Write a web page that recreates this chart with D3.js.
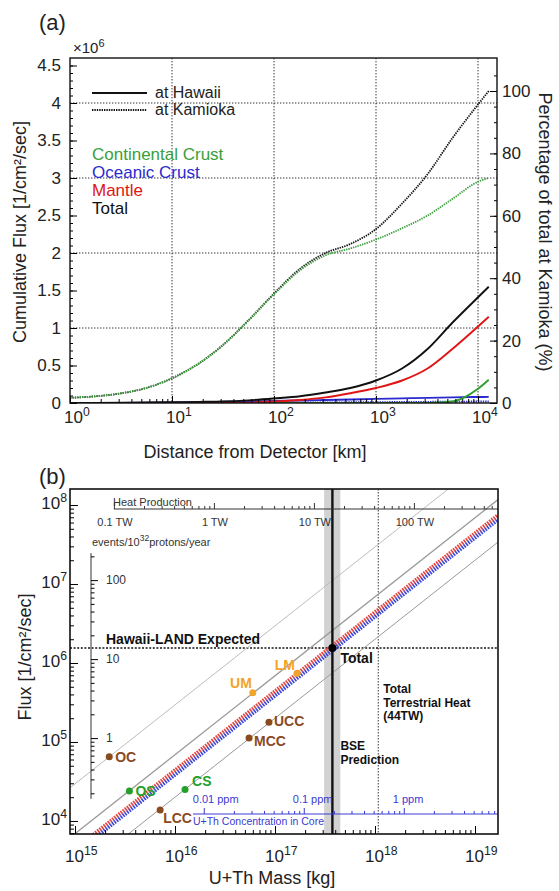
<!DOCTYPE html>
<html>
<head>
<meta charset="utf-8">
<script src="https://cdn.jsdelivr.net/npm/d3@7"></script>
<style>
  body { margin: 0; background: #fff; }
  svg { font-family: "Liberation Sans", Arial, Helvetica, sans-serif; }
</style>
</head>
<body>
<svg id="chart" width="559" height="891"></svg>
<script>
// ---------- panel (a): cumulative flux (x10^6 /cm2/sec) vs distance ----------
var distanceKm   = [1, 1.8, 3.2, 5.6, 10, 18, 32, 56, 100, 180, 320, 560, 1000, 1800, 3200, 5600, 10000, 12742];
var kamiokaCC    = [0.07, 0.09, 0.13, 0.2, 0.33, 0.52, 0.78, 1.1, 1.45, 1.77, 1.97, 2.06, 2.18, 2.33, 2.5, 2.72, 2.95, 3.0];
var kamiokaOC    = [0, 0, 0, 0, 0.001, 0.002, 0.003, 0.004, 0.005, 0.006, 0.008, 0.01, 0.012, 0.014, 0.016, 0.018, 0.02, 0.02];
var kamiokaTotal = [0.07, 0.09, 0.13, 0.2, 0.33, 0.52, 0.78, 1.1, 1.46, 1.79, 2.0, 2.12, 2.32, 2.66, 3.05, 3.53, 3.98, 4.16];
var hawaiiCC     = [0, 0, 0, 0, 0, 0, 0, 0, 0, 0, 0, 0, 0, 0, 0, 0.02, 0.19, 0.31];
var hawaiiOC     = [0, 0.001, 0.002, 0.004, 0.008, 0.012, 0.017, 0.022, 0.027, 0.033, 0.04, 0.047, 0.055, 0.062, 0.069, 0.075, 0.08, 0.082];
var hawaiiMantle = [0, 0, 0, 0, 0, 0, 0, 0.005, 0.02, 0.04, 0.075, 0.13, 0.2, 0.3, 0.46, 0.72, 1.02, 1.15];
var hawaiiTotal  = [0, 0.001, 0.003, 0.006, 0.01, 0.015, 0.02, 0.035, 0.06, 0.09, 0.14, 0.2, 0.3, 0.46, 0.72, 1.07, 1.41, 1.55];
var fluxTicks    = [0, 0.5, 1, 1.5, 2, 2.5, 3, 3.5, 4, 4.5];
var percentTicks = [0, 20, 40, 60, 80, 100];
var distDecades  = [1, 10, 100, 1000, 10000];

// ---------- panel (b): flux vs U+Th mass ----------
var reservoirNames = ["OC", "OS", "CS", "LCC", "MCC", "UCC", "UM", "LM"];
var reservoirMass  = [2.2e15, 3.5e15, 1.26e16, 7.1e15, 5.5e16, 8.7e16, 6.0e16, 1.66e17];
var reservoirFlux  = [6.5e4, 2.4e4, 2.5e4, 1.38e4, 1.12e5, 1.78e5, 4.2e5, 7.4e5];
var reservoirGroup = ["ocean", "sediment", "sediment", "ocean", "ocean", "ocean", "mantle", "mantle"];
var ratioLines     = [2.95e-11, 6.9e-12, 2.0e-12];   // flux per kg, gray guides
var bandRatios     = [4.4e-12, 3.85e-12];            // red / blue
var bseMass = 3.75e17, bseRange = [3.1e17, 4.5e17];
var totalFlux = 1.55e6, hawaiiExpected = 1.55e6;
var terrestrialHeatTW = 44, massPerTW = 2.45e16;
var coreMassKg = 1.94e24, fluxPerEvent = 1.12e5;
var eventsRange = [0.17, 220], coreRange = [0.0078, 10];
var massDecades = [1e15, 1e16, 1e17, 1e18, 1e19];
var fluxDecades = [1e4, 1e5, 1e6, 1e7, 1e8];
var heatTicks   = [0.1, 1, 10, 100];
var eventTicks  = [1, 10, 100];
var ppmTicks    = [0.01, 0.1, 1];

var svg = d3.select("#chart");

function minorsOf(decades, lo, hi) {
  var out = [];
  decades.forEach(function(d) {
    for (var k = 2; k <= 9; k++) {
      var v = d * k;
      if (v >= lo && v <= hi) out.push(v);
    }
  });
  return out;
}
function extendDecades(lo, hi) {
  var out = [];
  for (var e = Math.floor(Math.log10(lo)) - 1; e <= Math.ceil(Math.log10(hi)); e++) out.push(Math.pow(10, e));
  return out;
}

// "10" with exponent
function powLabel(g, x, y, exp, anchor, size) {
  var t = g.append("text").attr("x", x).attr("y", y)
    .attr("text-anchor", anchor).attr("font-size", size).attr("fill", "#222");
  t.append("tspan").text("10");
  t.append("tspan").attr("dy", -size * 0.42).attr("font-size", size * 0.72).text(exp);
}

function clean(g) {
  g.select(".domain").remove();
  g.attr("font-family", null);
}

// ================= panel (a) =================
var aL = 70, aR = 497, aT = 58, aB = 403;
var xA = d3.scaleLog().domain([1, 15350]).range([aL, aR]);
var yA = d3.scaleLinear().domain([0, 4.6]).range([aB, aT]);
var yP = d3.scaleLinear().domain([0, 4.6 / kamiokaTotal[kamiokaTotal.length - 1] * 100]).range([aB, aT]);

var pa = svg.append("g");
pa.append("defs").append("clipPath").attr("id", "clipA")
  .append("rect").attr("x", aL).attr("y", aT).attr("width", aR - aL).attr("height", aB - aT);

// grid
pa.append("g").selectAll("line").data(distDecades.slice(1)).enter().append("line")
  .attr("x1", function(d) { return xA(d); }).attr("x2", function(d) { return xA(d); })
  .attr("y1", aT).attr("y2", aB)
  .attr("stroke", "#333").attr("stroke-width", 1).attr("stroke-dasharray", "1.4,1.6");
pa.append("g").selectAll("line").data([1, 2, 3, 4]).enter().append("line")
  .attr("x1", aL).attr("x2", aR)
  .attr("y1", function(d) { return yA(d); }).attr("y2", function(d) { return yA(d); })
  .attr("stroke", "#333").attr("stroke-width", 1).attr("stroke-dasharray", "1.4,1.6");

// curves
var seriesA = [
  { v: kamiokaTotal, color: "#111", dotted: true },
  { v: kamiokaCC, color: "#3a9e3a", dotted: true },
  { v: kamiokaOC, color: "#2a2ad0", dotted: true },
  { v: hawaiiOC, color: "#2a2ad0", dotted: false },
  { v: hawaiiCC, color: "#2e9e2e", dotted: false },
  { v: hawaiiMantle, color: "#e01515", dotted: false },
  { v: hawaiiTotal, color: "#111", dotted: false }
];
var lineA = d3.line().curve(d3.curveMonotoneX);
pa.append("g").attr("clip-path", "url(#clipA)").selectAll("path").data(seriesA).enter().append("path")
  .attr("d", function(s) {
    return lineA(distanceKm.map(function(d, i) { return [xA(d), yA(s.v[i])]; }));
  })
  .attr("fill", "none")
  .attr("stroke", function(s) { return s.color; })
  .attr("stroke-width", function(s) { return s.dotted ? 1.8 : 1.9; })
  .attr("stroke-dasharray", function(s) { return s.dotted ? "1.4,1" : null; });

// axes
var axB = pa.append("g").attr("transform", "translate(0," + aB + ")")
  .call(d3.axisBottom(xA).tickValues(distDecades).tickSize(-7).tickFormat(""));
clean(axB);
var axBm = pa.append("g").attr("transform", "translate(0," + aB + ")")
  .call(d3.axisBottom(xA).tickValues(minorsOf(distDecades, 1, 15350)).tickSize(-4).tickFormat(""));
clean(axBm);
distDecades.forEach(function(d) {
  powLabel(pa, xA(d) - 6, 423, Math.round(Math.log10(d)), "start", 17);
});

var axL = pa.append("g").attr("transform", "translate(" + aL + ",0)")
  .call(d3.axisLeft(yA).tickValues(fluxTicks).tickSize(-7).tickPadding(9).tickFormat(function(d) { return d; }));
clean(axL);
axL.attr("font-size", 17).selectAll("text").attr("fill", "#222");
var axLm = pa.append("g").attr("transform", "translate(" + aL + ",0)")
  .call(d3.axisLeft(yA).tickValues(d3.range(0.1, 4.6, 0.1)).tickSize(-3).tickFormat(""));
clean(axLm);

var axR = pa.append("g").attr("transform", "translate(" + aR + ",0)")
  .call(d3.axisRight(yP).tickValues(percentTicks).tickSize(-7).tickPadding(5).tickFormat(function(d) { return d; }));
clean(axR);
axR.attr("font-size", 17).selectAll("text").attr("fill", "#222");
var axRm = pa.append("g").attr("transform", "translate(" + aR + ",0)")
  .call(d3.axisRight(yP).tickValues(d3.range(5, 110, 5)).tickSize(-3).tickFormat(""));
clean(axRm);

pa.append("rect").attr("x", aL).attr("y", aT).attr("width", aR - aL).attr("height", aB - aT)
  .attr("fill", "none").attr("stroke", "#111").attr("stroke-width", 1.4);

// x10^6
var mult = pa.append("text").attr("x", 73).attr("y", 53).attr("font-size", 15).attr("fill", "#222");
mult.append("tspan").text("\u00d710");
mult.append("tspan").attr("dy", -6).attr("font-size", 11).text("6");

// legend
var legA = [
  { label: "at Hawaii", dotted: false },
  { label: "at Kamioka", dotted: true }
];
legA.forEach(function(l, i) {
  var y = 93 + i * 17;
  pa.append("line").attr("x1", 92).attr("x2", 147).attr("y1", y).attr("y2", y)
    .attr("stroke", "#111").attr("stroke-width", l.dotted ? 1.8 : 2)
    .attr("stroke-dasharray", l.dotted ? "1.4,1" : null);
  pa.append("text").attr("x", 155).attr("y", y + 5).attr("font-size", 16).attr("fill", "#222").text(l.label);
});
var compA = [
  { label: "Continental Crust", color: "#3a9e3a" },
  { label: "Oceanic Crust", color: "#2a2ad0" },
  { label: "Mantle", color: "#e01515" },
  { label: "Total", color: "#111" }
];
compA.forEach(function(c, i) {
  pa.append("text").attr("x", 92).attr("y", 160 + i * 18).attr("font-size", 17)
    .attr("fill", c.color).text(c.label);
});

// titles
pa.append("text").attr("x", 39).attr("y", 30).attr("font-size", 22).attr("fill", "#222").text("(a)");
pa.append("text").attr("transform", "translate(26,232) rotate(-90)").attr("text-anchor", "middle")
  .attr("font-size", 18).attr("fill", "#222").text("Cumulative Flux [1/cm\u00b2/sec]");
pa.append("text").attr("transform", "translate(539,232) rotate(90)").attr("text-anchor", "middle")
  .attr("font-size", 18).attr("fill", "#222").text("Percentage of total at Kamioka (%)");
pa.append("text").attr("x", 255).attr("y", 458).attr("text-anchor", "middle")
  .attr("font-size", 18).attr("fill", "#222").text("Distance from Detector [km]");

// ================= panel (b) =================
var bL = 70, bR = 498, bT = 489, bB = 834;
var xB = d3.scaleLog().domain([Math.pow(10, 14.95), Math.pow(10, 19.23)]).range([bL, bR]);
var yB = d3.scaleLog().domain([Math.pow(10, 3.835), Math.pow(10, 8.203)]).range([bB, bT]);
var m0 = xB.domain()[0], m1 = xB.domain()[1];

var pb = svg.append("g");
pb.append("defs").append("clipPath").attr("id", "clipB")
  .append("rect").attr("x", bL).attr("y", bT).attr("width", bR - bL).attr("height", bB - bT);

// BSE band
pb.append("rect").attr("x", xB(bseRange[0])).attr("y", bT)
  .attr("width", xB(bseRange[1]) - xB(bseRange[0])).attr("height", bB - bT)
  .attr("fill", "#d2d2d2");

// reference dotted lines
pb.append("line").attr("x1", bL).attr("x2", bR).attr("y1", yB(hawaiiExpected)).attr("y2", yB(hawaiiExpected))
  .attr("stroke", "#111").attr("stroke-width", 1.6).attr("stroke-dasharray", "2,1.6");
var heatMass = terrestrialHeatTW * massPerTW;
pb.append("line").attr("x1", xB(heatMass)).attr("x2", xB(heatMass)).attr("y1", bT).attr("y2", bB)
  .attr("stroke", "#222").attr("stroke-width", 0.9).attr("stroke-dasharray", "1.5,1.5");

// diagonal guides
var guideStyle = [
  { color: "#b4b4b4", width: 0.9 },
  { color: "#9a9a9a", width: 1.3 },
  { color: "#9a9a9a", width: 1 }
];
var gDiag = pb.append("g").attr("clip-path", "url(#clipB)");
ratioLines.forEach(function(r, i) {
  gDiag.append("line")
    .attr("x1", xB(m0)).attr("y1", yB(r * m0)).attr("x2", xB(m1)).attr("y2", yB(r * m1))
    .attr("stroke", guideStyle[i].color).attr("stroke-width", guideStyle[i].width);
});
var bandColors = ["#e2443f", "#3c46d8"];
bandRatios.forEach(function(r, i) {
  gDiag.append("line")
    .attr("x1", xB(m0)).attr("y1", yB(r * m0)).attr("x2", xB(m1)).attr("y2", yB(r * m1))
    .attr("stroke", bandColors[i]).attr("stroke-width", 3.8).attr("stroke-dasharray", "1.6,1.1");
});

// BSE line
pb.append("line").attr("x1", xB(bseMass)).attr("x2", xB(bseMass)).attr("y1", bT).attr("y2", bB)
  .attr("stroke", "#111").attr("stroke-width", 2.4);

// heat production axis
var heatScale = d3.scaleLog().domain([m0 / massPerTW, m1 / massPerTW]).range([bL, bR]);
var heatY = 509, heatMax = m1 / massPerTW;
pb.append("line").attr("x1", heatScale(heatTicks[0])).attr("x2", bR).attr("y1", heatY).attr("y2", heatY)
  .attr("stroke", "#333").attr("stroke-width", 1);
var hx = pb.append("g").attr("transform", "translate(0," + heatY + ")")
  .call(d3.axisTop(heatScale).tickValues(heatTicks).tickSize(6).tickFormat(""));
clean(hx);
hx.selectAll("line").attr("stroke", "#333");
var hxm = pb.append("g").attr("transform", "translate(0," + heatY + ")")
  .call(d3.axisTop(heatScale).tickValues(minorsOf(heatTicks, heatTicks[0], heatMax)).tickSize(3).tickFormat(""));
clean(hxm);
hxm.selectAll("line").attr("stroke", "#333");
heatTicks.forEach(function(h) {
  pb.append("text").attr("x", heatScale(h) + 1).attr("y", 526).attr("text-anchor", "middle")
    .attr("font-size", 11).attr("fill", "#333").text(h + " TW");
});
pb.append("text").attr("x", 113).attr("y", 506).attr("font-size", 11).attr("fill", "#333").text("Heat Production");

// events axis
var evScale = d3.scaleLog().domain([yB.domain()[0] / fluxPerEvent, yB.domain()[1] / fluxPerEvent]).range([bB, bT]);
var evX = 91;
pb.append("line").attr("x1", evX).attr("x2", evX).attr("y1", evScale(eventsRange[0])).attr("y2", evScale(eventsRange[1]))
  .attr("stroke", "#333").attr("stroke-width", 1);
var ev = pb.append("g").attr("transform", "translate(" + evX + ",0)")
  .call(d3.axisRight(evScale).tickValues(eventTicks).tickSize(7).tickFormat(""));
clean(ev);
var evm = pb.append("g").attr("transform", "translate(" + evX + ",0)")
  .call(d3.axisRight(evScale).tickValues(minorsOf(extendDecades(eventsRange[0], eventsRange[1]), eventsRange[0], eventsRange[1])).tickSize(3.5).tickFormat(""));
clean(evm);
eventTicks.forEach(function(e) {
  pb.append("text").attr("x", evX + 15).attr("y", evScale(e) + 4).attr("font-size", 12)
    .attr("fill", "#333").text(e);
});
var evT = pb.append("text").attr("x", 92).attr("y", 546).attr("font-size", 11).attr("fill", "#333");
evT.append("tspan").text("events/10");
evT.append("tspan").attr("dy", -5).attr("font-size", 8.5).text("32");
evT.append("tspan").attr("dy", 5).text("protons/year");

// core concentration axis
var ppmScale = d3.scaleLog().domain([m0 / coreMassKg * 1e6, m1 / coreMassKg * 1e6]).range([bL, bR]);
var coreY = 814, coreBlue = "#3a3ad2";
pb.append("line").attr("x1", ppmScale(coreRange[0])).attr("x2", bR).attr("y1", coreY).attr("y2", coreY)
  .attr("stroke", coreBlue).attr("stroke-width", 1);
var cx = pb.append("g").attr("transform", "translate(0," + coreY + ")")
  .call(d3.axisTop(ppmScale).tickValues(ppmTicks).tickSize(6).tickFormat(""));
clean(cx);
cx.selectAll("line").attr("stroke", coreBlue);
var cxm = pb.append("g").attr("transform", "translate(0," + coreY + ")")
  .call(d3.axisTop(ppmScale).tickValues(minorsOf(ppmTicks.concat([10]), coreRange[0], coreRange[1]).filter(function(v) { return ppmScale(v) < bR; })).tickSize(3).tickFormat(""));
clean(cxm);
cxm.selectAll("line").attr("stroke", coreBlue);
ppmTicks.forEach(function(p) {
  pb.append("text").attr("x", ppmScale(p) - 11).attr("y", 803).attr("font-size", 11)
    .attr("fill", coreBlue).text(p + " ppm");
});
pb.append("text").attr("x", ppmScale(coreRange[0])).attr("y", 825).attr("font-size", 10.5)
  .attr("fill", coreBlue).text("U+Th Concentration in Core");

// reservoirs
var groupColor = { ocean: "#8a4a1e", sediment: "#22a02a", mantle: "#f2a428" };
var labelPlace = {
  OC: [6, 5, "start"], OS: [6, 5, "start"], CS: [7, -4, "start"], LCC: [3, 13, "start"],
  MCC: [5, 8, "start"], UCC: [5, 4, "start"], UM: [-1, -5, "end"], LM: [-2, -3, "end"]
};
reservoirNames.forEach(function(n, i) {
  var px = xB(reservoirMass[i]), py = yB(reservoirFlux[i]), c = groupColor[reservoirGroup[i]];
  pb.append("circle").attr("cx", px).attr("cy", py).attr("r", 3.5).attr("fill", c);
  var p = labelPlace[n];
  pb.append("text").attr("x", px + p[0]).attr("y", py + p[1]).attr("text-anchor", p[2])
    .attr("font-size", 14).attr("font-weight", "bold").attr("fill", c).text(n);
});

// total
pb.append("circle").attr("cx", xB(bseMass)).attr("cy", yB(totalFlux)).attr("r", 4).attr("fill", "#000");
pb.append("text").attr("x", xB(bseMass) + 8).attr("y", yB(totalFlux) + 15).attr("font-size", 14)
  .attr("font-weight", "bold").attr("fill", "#111").text("Total");
pb.append("text").attr("x", 106).attr("y", yB(hawaiiExpected) - 4).attr("font-size", 14)
  .attr("font-weight", "bold").attr("fill", "#111").text("Hawaii-LAND Expected");
["Total", "Terrestrial Heat", "(44TW)"].forEach(function(s, i) {
  pb.append("text").attr("x", xB(heatMass) + 5).attr("y", 693 + i * 13.5).attr("font-size", 12)
    .attr("font-weight", "bold").attr("fill", "#111").text(s);
});
["BSE", "Prediction"].forEach(function(s, i) {
  pb.append("text").attr("x", xB(bseMass) + 8).attr("y", 750 + i * 13.5).attr("font-size", 12)
    .attr("font-weight", "bold").attr("fill", "#111").text(s);
});

// frame + outer axes
pb.append("rect").attr("x", bL).attr("y", bT).attr("width", bR - bL).attr("height", bB - bT)
  .attr("fill", "none").attr("stroke", "#111").attr("stroke-width", 1.6);
var bx = pb.append("g").attr("transform", "translate(0," + bB + ")")
  .call(d3.axisBottom(xB).tickValues(massDecades).tickSize(-8).tickFormat(""));
clean(bx);
var bxm = pb.append("g").attr("transform", "translate(0," + bB + ")")
  .call(d3.axisBottom(xB).tickValues(minorsOf(massDecades, m0, m1)).tickSize(-4).tickFormat(""));
clean(bxm);
var by = pb.append("g").attr("transform", "translate(" + bL + ",0)")
  .call(d3.axisLeft(yB).tickValues(fluxDecades).tickSize(-8).tickFormat(""));
clean(by);
var bym = pb.append("g").attr("transform", "translate(" + bL + ",0)")
  .call(d3.axisLeft(yB).tickValues(minorsOf([1e3].concat(fluxDecades), yB.domain()[0], yB.domain()[1])).tickSize(-4).tickFormat(""));
clean(bym);
massDecades.forEach(function(m) {
  powLabel(pb, xB(m) - 10, 862, Math.round(Math.log10(m)), "start", 17);
});
fluxDecades.forEach(function(f) {
  powLabel(pb, 67, yB(f) + 4, Math.round(Math.log10(f)), "end", 17);
});

pb.append("text").attr("x", 39).attr("y", 484).attr("font-size", 22).attr("fill", "#222").text("(b)");
pb.append("text").attr("transform", "translate(31,657) rotate(-90)").attr("text-anchor", "middle")
  .attr("font-size", 18).attr("fill", "#222").text("Flux [1/cm\u00b2/sec]");
pb.append("text").attr("x", 272).attr("y", 884).attr("text-anchor", "middle")
  .attr("font-size", 18).attr("fill", "#222").text("U+Th Mass [kg]");
</script>
</body>
</html>
